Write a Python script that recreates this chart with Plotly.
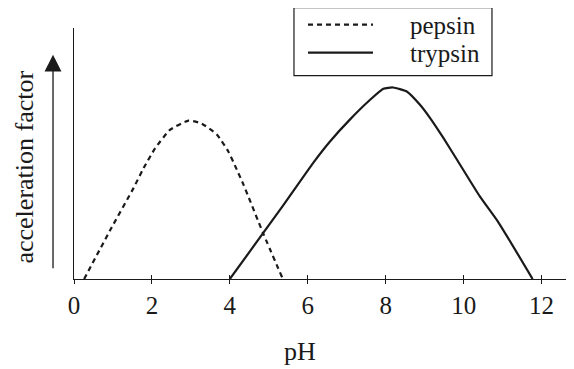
import plotly.graph_objects as go

# Curve points (pH, acceleration factor in arbitrary units)
pepsin_ph = [0.26, 0.93, 1.53, 1.78, 2.08, 2.47, 2.94, 3.28, 3.67, 3.96, 4.18, 4.35, 4.85, 5.36]
pepsin_af = [0.0, 1.95, 3.63, 4.4, 5.2, 5.95, 6.31, 6.19, 5.75, 5.08, 4.35, 3.76, 1.84, 0.0]

trypsin_ph = [4.0, 5.29, 6.14, 6.57, 7.08, 7.60, 7.94, 8.19, 8.54, 8.88, 9.14, 9.48, 9.83, 10.42, 10.9, 11.77]
trypsin_af = [0.0, 2.76, 4.63, 5.48, 6.35, 7.14, 7.58, 7.63, 7.47, 6.94, 6.41, 5.62, 4.75, 3.28, 2.24, 0.0]

x_ticks = [0, 2, 4, 6, 8, 10, 12]

legend_names = ["pepsin", "trypsin"]

_FONT = "'Times New Roman', 'Liberation Serif', serif"
_INK = "#1a1a1a"
_DASH = "5px,4px"

fig = go.Figure()

fig.add_trace(go.Scatter(
	x = pepsin_ph,
	y = pepsin_af,
	mode = "lines",
	name = legend_names[0],
	line = {"color": _INK, "width": 2.2, "dash": _DASH, "shape": "spline", "smoothing": 0.5},
))
fig.add_trace(go.Scatter(
	x = trypsin_ph,
	y = trypsin_af,
	mode = "lines",
	name = legend_names[1],
	line = {"color": _INK, "width": 2.2, "shape": "spline", "smoothing": 0.5},
))

# Invisible trace on the overlay axis so the upward half of the ticks is drawn
fig.add_trace(go.Scatter(x = [0], y = [0], xaxis = "x2", mode = "none", showlegend = False, hoverinfo = "skip"))

axis_common = dict(
	range = [0, 12.73],
	tickvals = x_ticks,
	tickcolor = _INK,
	ticklen = 4,
	tickwidth = 1.2,
	showgrid = False,
	zeroline = False,
)

# The page body has an 8px margin, so the figure is 8px smaller than the window
fig.update_layout(
	width = 566,
	height = 361,
	margin = {"l": 66, "r": 4, "t": 20, "b": 90},
	plot_bgcolor = "white",
	paper_bgcolor = "white",
	font = {"family": _FONT, "size": 26, "color": _INK},
	showlegend = False,
	xaxis = dict(
		axis_common,
		ticks = "outside",
		showline = True,
		linecolor = _INK,
		linewidth = 1.2,
		tickfont = {"size": 25},
	),
	xaxis2 = dict(
		axis_common,
		ticks = "inside",
		overlaying = "x",
		anchor = "y",
		side = "bottom",
		showticklabels = False,
		showline = False,
	),
	yaxis = dict(
		range = [0, 10],
		showline = True,
		linecolor = _INK,
		linewidth = 1.2,
		showticklabels = False,
		ticks = "",
		showgrid = False,
		zeroline = False,
	),
)

# Axis titles
fig.add_annotation(
	text = "pH",
	xref = "paper", yref = "paper",
	x = 0.4556, y = -0.29,
	xanchor = "center", yanchor = "middle",
	showarrow = False,
)
fig.add_annotation(
	text = "acceleration factor",
	xref = "paper", yref = "paper",
	x = -0.0988, y = 0.448,
	xanchor = "center", yanchor = "middle",
	textangle = -90,
	showarrow = False,
)
# Upward arrow beside the y label
fig.add_annotation(
	text = "",
	xref = "paper", yref = "paper",
	x = -0.0423, y = 0.8936,
	ax = 0, ay = 215,
	showarrow = True,
	arrowhead = 2,
	arrowsize = 2.6,
	arrowwidth = 1.3,
	arrowcolor = _INK,
)

# Legend box drawn by hand so the sample lines and spacing match
fig.add_shape(
	type = "rect",
	xref = "paper", yref = "paper",
	x0 = 0.4435, x1 = 0.8427, y0 = 0.810, y1 = 1.0809,
	line = {"color": _INK, "width": 1.2},
	fillcolor = "white",
)
legend_rows = [1.0131, 0.9016]
legend_dash = [_DASH, "solid"]
for name, row, dash in zip(legend_names, legend_rows, legend_dash):
	fig.add_shape(
		type = "line",
		xref = "paper", yref = "paper",
		x0 = 0.4718, x1 = 0.6028, y0 = row, y1 = row,
		line = {"color": _INK, "width": 2.2, "dash": dash},
	)
	fig.add_annotation(
		text = name,
		xref = "paper", yref = "paper",
		x = 0.6735, y = row - 0.004,
		xanchor = "left", yanchor = "middle",
		font = {"size": 25},
		showarrow = False,
	)

fig.write_html("out.html")
